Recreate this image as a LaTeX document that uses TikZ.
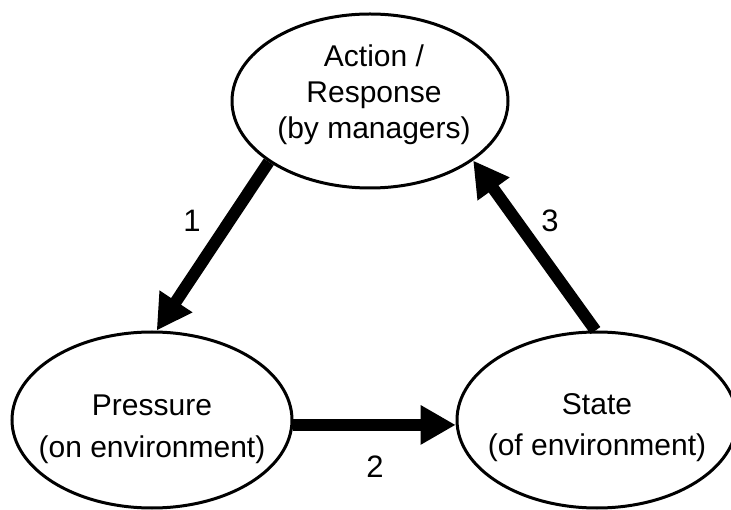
\documentclass[tikz,border=0pt]{standalone}
\usepackage{fontspec}
\setmainfont{Liberation Sans}
\usetikzlibrary{shapes.geometric,arrows.meta}
\begin{document}
\begin{tikzpicture}[x=1pt,y=-1pt,
  oval/.style={ellipse,draw,line width=3pt,inner sep=0pt},
  txt/.style={anchor=base,inner sep=0pt,font=\fontsize{30}{36}\selectfont},
  num/.style={anchor=base,inner sep=0pt,font=\fontsize{31}{36}\selectfont},
  bigarrow/.style={line width=12pt,-{Triangle[length=35pt,width=37pt]}}]
\useasboundingbox (0,0) rectangle (731,510);
\node[oval,minimum width=276pt,minimum height=174pt] (top) at (370,101) {};
\node[oval,minimum width=280pt,minimum height=176pt] (left) at (152,420) {};
\node[oval,minimum width=280pt,minimum height=176pt] (right) at (597,420) {};
\node[txt] (t1) at (374,67) {Action /};
\node[txt] (t2) at (374,103) {Response};
\node[txt] (t3) at (374,139) {(by managers)};
\node[txt] (l1) at (152,416) {Pressure};
\node[txt] (l2) at (152,457) {(on environment)};
\node[txt] (r1) at (597,414) {State};
\node[txt] (r2) at (597,455) {(of environment)};
\node[num] (n1) at (192,232) {1};
\node[num] (n2) at (375,477) {2};
\node[num] (n3) at (550,232) {3};
\draw[bigarrow] (top.211) -- (left.87);
\draw[bigarrow] (left.-2) -- (right.182);
\draw[bigarrow] (right.91) -- (top.-30.5);
\end{tikzpicture}
\end{document}
